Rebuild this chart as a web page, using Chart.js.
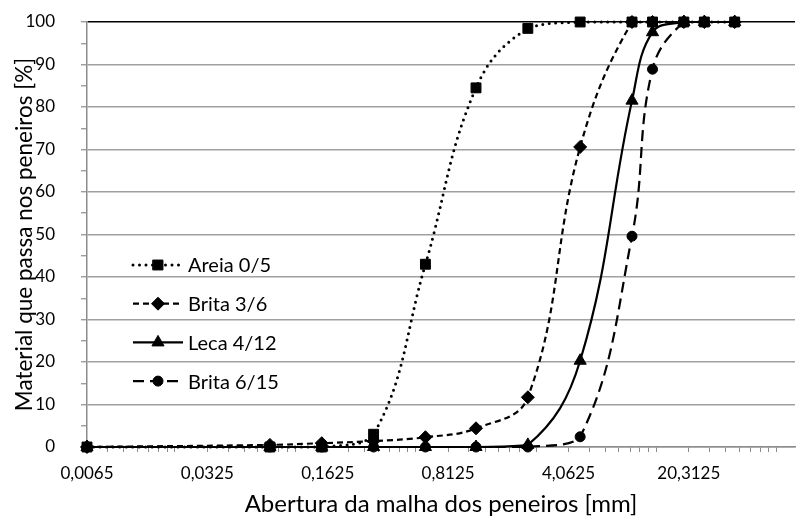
<!DOCTYPE html>
<html>
<head>
<meta charset="utf-8">
<script src="https://cdn.jsdelivr.net/npm/chart.js@4.4.0/dist/chart.umd.min.js"></script>
<style>
  html, body { margin: 0; padding: 0; background: #fff; }
  #wrap { width: 803px; height: 516px; }
</style>
</head>
<body>
<div id="wrap"><canvas id="grading-chart"></canvas></div>
<script>
//
// Curvas granulometricas - dados
//
const sieveSizes = [0.0065, 0.075, 0.15, 0.3, 0.6, 1.18, 2.36, 4.75, 9.5, 12.5, 19, 25, 37.5];

const areia05  = [0, 0,   0,   3,   43,  84.5, 98.5, 100,  100,  100,  100, 100, 100];
const brita36  = [0, 0.5, 0.9, 1.4, 2.3, 4.4,  11.7, 70.6, 100,  100,  100, 100, 100];
const leca412  = [0, 0,   0,   0,   0,   0,    0.5,  20.3, 81.5, 97.6, 100, 100, 100];
const brita615 = [0, 0,   0,   0,   0,   0,    0,    2.4,  49.6, 88.9, 100, 100, 100];

const seriesNames = ['Areia 0/5', 'Brita 3/6', 'Leca 4/12', 'Brita 6/15'];

const xTickValues = [0.0065, 0.0325, 0.1625, 0.8125, 4.0625, 20.3125];
const xTickLabels = ['0,0065', '0,0325', '0,1625', '0,8125', '4,0625', '20,3125'];
const xMax = 84;

const FONT = 'Lato';

function toPoints(values) {
  return values.map((v, i) => ({ x: sieveSizes[i], y: v }));
}

const baseSet = {
  borderColor: '#000',
  backgroundColor: '#000',
  pointBackgroundColor: '#000',
  pointBorderColor: '#000',
  pointBorderWidth: 1,
  borderWidth: 2.2,
  tension: 0.4,
  clip: false
};

const data = {
  datasets: [
    Object.assign({}, baseSet, {
      label: seriesNames[0],
      data: toPoints(areia05),
      borderDash: [0, 6.5],
      borderCapStyle: 'round',
      borderWidth: 3,
      pointStyle: 'rect',
      pointRadius: 7
    }),
    Object.assign({}, baseSet, {
      label: seriesNames[1],
      data: toPoints(brita36),
      borderDash: [6, 4],
      pointStyle: 'rectRot',
      pointRadius: 6.5
    }),
    Object.assign({}, baseSet, {
      label: seriesNames[2],
      data: toPoints(leca412),
      pointStyle: 'triangle',
      pointRadius: 7
    }),
    Object.assign({}, baseSet, {
      label: seriesNames[3],
      data: toPoints(brita615),
      borderDash: [11, 6],
      pointStyle: 'circle',
      pointRadius: 5
    })
  ]
};

// legenda dentro da area do grafico
const insideLegend = {
  id: 'insideLegend',
  afterDatasetsDraw(chart) {
    const ctx = chart.ctx;
    const area = chart.chartArea;
    chart.data.datasets.forEach((ds, i) => {
      const y = area.top + 243 + i * 38.7;
      const x0 = area.left + 46;
      const x1 = area.left + 96;
      ctx.save();
      ctx.strokeStyle = '#000';
      ctx.lineWidth = ds.borderWidth;
      ctx.lineCap = ds.borderCapStyle || 'butt';
      ctx.setLineDash(ds.borderDash || []);
      ctx.beginPath();
      ctx.moveTo(x0, y);
      ctx.lineTo(x1, y);
      ctx.stroke();
      ctx.setLineDash([]);
      ctx.fillStyle = '#000';
      ctx.lineWidth = 1;
      Chart.helpers.drawPoint(ctx, {
        pointStyle: ds.pointStyle, radius: ds.pointRadius, borderWidth: 1, rotation: 0
      }, (x0 + x1) / 2, y);
      ctx.font = '20px ' + FONT;
      ctx.textBaseline = 'middle';
      ctx.textAlign = 'left';
      ctx.fillText(ds.label, x1 + 5, y + 1);
      ctx.restore();
    });
  }
};

const config = {
  type: 'line',
  data: data,
  plugins: [insideLegend],
  options: {
    responsive: true,
    maintainAspectRatio: false,
    animation: false,
    events: [],
    layout: { padding: { top: 22, right: 0, bottom: 0, left: 0 } },
    plugins: {
      legend: { display: false },
      tooltip: { enabled: false }
    },
    scales: {
      x: {
        type: 'logarithmic',
        min: xTickValues[0],
        max: xMax,
        afterBuildTicks(axis) {
          const ticks = [];
          xTickValues.forEach(v => {
            ticks.push({ value: v });
            for (let k = 1; k <= 7; k++) {
              const m = v * (1 + 0.32 * k);
              if (m < xMax) ticks.push({ value: m });
            }
          });
          axis.ticks = ticks;
        },
        afterFit(scale) { scale.height = 69; },
        border: { color: '#8c8c8c', width: 1.5 },
        grid: {
          drawOnChartArea: false,
          drawTicks: true,
          tickLength: 5,
          tickColor: '#8c8c8c',
          tickWidth: 1
        },
        ticks: {
          autoSkip: false,
          maxRotation: 0,
          padding: 11,
          color: '#000',
          font: { family: FONT, size: 17 },
          callback(value) {
            const idx = xTickValues.indexOf(value);
            return idx >= 0 ? xTickLabels[idx] : '';
          }
        },
        title: {
          display: true,
          text: 'Abertura da malha dos peneiros [mm]',
          color: '#000',
          font: { family: FONT, size: 24 },
          padding: { top: 0, bottom: -3 }
        }
      },
      y: {
        min: 0,
        max: 100,
        afterFit(scale) {
          scale.width = 87;
          scale.paddingTop = 0;
          scale.paddingBottom = 0;
        },
        border: { color: '#8c8c8c', width: 1.5 },
        grid: {
          color: ctx => (ctx.tick.value % 10 !== 0 ? 'rgba(0,0,0,0)' : (ctx.tick.value === 100 ? '#000' : '#a0a0a0')),
          lineWidth: 1.5,
          tickLength: 6,
          tickColor: '#8c8c8c',
          tickWidth: 1.2
        },
        ticks: {
          stepSize: 5,
          autoSkip: false,
          padding: 26,
          color: '#000',
          font: { family: FONT, size: 17 },
          callback(value) {
            return value % 10 === 0 ? value : '';
          }
        },
        title: {
          display: true,
          text: 'Material que passa nos peneiros [%]',
          color: '#000',
          font: { family: FONT, size: 22.5 },
          padding: { top: 11, bottom: 0 }
        }
      }
    }
  }
};

const myChart = new Chart(document.getElementById('grading-chart'), config);
</script>
</body>
</html>
